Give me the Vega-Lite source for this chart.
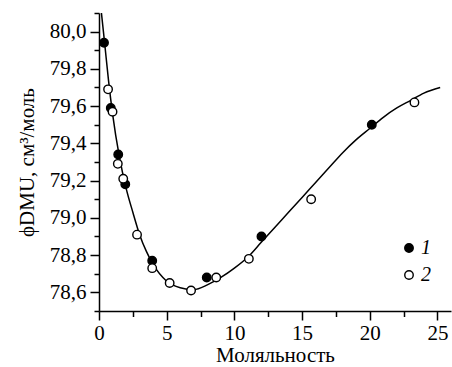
{
  "$schema": "https://vega.github.io/schema/vega-lite/v6.json",
  "width": 352,
  "height": 298,
  "autosize": {"type": "none"},
  "padding": {"left": 99, "top": 13, "right": 1, "bottom": 56},
  "background": "white",
  "config": {
    "view": {"stroke": null},
    "font": "Liberation Serif",
    "axis": {
      "domainColor": "black",
      "domainWidth": 1.5,
      "tickColor": "black",
      "tickWidth": 1.5,
      "labelColor": "black",
      "titleColor": "black",
      "labelFont": "Liberation Serif",
      "titleFont": "Liberation Serif",
      "labelFontSize": 21,
      "titleFontSize": 21,
      "titleFontWeight": "normal",
      "labelOverlap": false,
      "grid": false
    }
  },
  "datasets": {
    "curve": [
      {"m": 0.15, "phi": 80.12},
      {"m": 0.4, "phi": 79.95},
      {"m": 0.7, "phi": 79.74},
      {"m": 1.0, "phi": 79.56},
      {"m": 1.5, "phi": 79.33},
      {"m": 2.0, "phi": 79.16},
      {"m": 2.5, "phi": 79.03},
      {"m": 3.0, "phi": 78.91},
      {"m": 3.5, "phi": 78.82},
      {"m": 4.0, "phi": 78.75},
      {"m": 5.0, "phi": 78.66},
      {"m": 6.0, "phi": 78.625},
      {"m": 7.0, "phi": 78.615},
      {"m": 8.0, "phi": 78.64},
      {"m": 9.0, "phi": 78.68},
      {"m": 10.0, "phi": 78.73},
      {"m": 11.0, "phi": 78.79},
      {"m": 12.0, "phi": 78.87},
      {"m": 13.0, "phi": 78.95},
      {"m": 14.0, "phi": 79.03},
      {"m": 15.0, "phi": 79.11},
      {"m": 16.0, "phi": 79.19},
      {"m": 17.0, "phi": 79.27},
      {"m": 18.0, "phi": 79.35},
      {"m": 19.0, "phi": 79.42},
      {"m": 20.0, "phi": 79.48},
      {"m": 21.0, "phi": 79.54},
      {"m": 22.0, "phi": 79.59},
      {"m": 23.0, "phi": 79.63},
      {"m": 24.0, "phi": 79.67},
      {"m": 25.2, "phi": 79.70}
    ],
    "points": [
      {"m": 0.37, "phi": 79.94, "series": "1"},
      {"m": 0.87, "phi": 79.59, "series": "1"},
      {"m": 1.42, "phi": 79.34, "series": "1"},
      {"m": 1.94, "phi": 79.18, "series": "1"},
      {"m": 3.93, "phi": 78.77, "series": "1"},
      {"m": 7.96, "phi": 78.68, "series": "1"},
      {"m": 12.0, "phi": 78.90, "series": "1"},
      {"m": 20.15, "phi": 79.50, "series": "1"},
      {"m": 0.67, "phi": 79.69, "series": "2"},
      {"m": 1.0, "phi": 79.57, "series": "2"},
      {"m": 1.39, "phi": 79.29, "series": "2"},
      {"m": 1.79, "phi": 79.21, "series": "2"},
      {"m": 2.81, "phi": 78.91, "series": "2"},
      {"m": 3.93, "phi": 78.73, "series": "2"},
      {"m": 5.22, "phi": 78.65, "series": "2"},
      {"m": 6.8, "phi": 78.61, "series": "2"},
      {"m": 8.66, "phi": 78.68, "series": "2"},
      {"m": 11.07, "phi": 78.78, "series": "2"},
      {"m": 15.67, "phi": 79.10, "series": "2"},
      {"m": 23.3, "phi": 79.62, "series": "2"}
    ]
  },
  "encoding": {
    "x": {
      "field": "m",
      "type": "quantitative",
      "scale": {"domain": [0, 26], "nice": false, "zero": false},
      "axis": {
        "title": "Моляльность",
        "values": [0, 2.5, 5, 7.5, 10, 12.5, 15, 17.5, 20, 22.5, 25],
        "tickCount": 100,
        "labelExpr": "datum.value % 5 == 0 ? format(datum.value, 'd') : ''",
        "labelFont": "Liberation Serif",
        "titleFont": "Liberation Serif",
        "labelFontSize": 21,
        "labelOverlap": false,
        "tickSize": {"condition": {"test": "datum.value % 5 == 0", "value": 9}, "value": 5.5},
        "labelPadding": 2,
        "titlePadding": 1,
        "labelFlush": false
      }
    },
    "y": {
      "field": "phi",
      "type": "quantitative",
      "scale": {"domain": [78.5, 80.1], "nice": false, "zero": false},
      "axis": {
        "title": "ϕDMU, см³/моль",
        "values": [78.5, 78.6, 78.7, 78.8, 78.9, 79.0, 79.1, 79.2, 79.3, 79.4, 79.5, 79.6, 79.7, 79.8, 79.9, 80.0, 80.1],
        "tickCount": 100,
        "labelExpr": "round(datum.value * 10) % 2 == 0 ? replace(format(datum.value, '.1f'), '.', ',') : ''",
        "labelFont": "Liberation Serif",
        "titleFont": "Liberation Serif",
        "labelFontSize": 21,
        "labelOverlap": false,
        "tickSize": {"condition": {"test": "round(datum.value * 10) % 2 == 0", "value": 9}, "value": 5},
        "labelPadding": 4,
        "titlePadding": 12,
        "labelFlush": false
      }
    }
  },
  "layer": [
    {
      "data": {"name": "curve"},
      "mark": {"type": "line", "color": "black", "strokeWidth": 1.5, "interpolate": "monotone", "clip": true}
    },
    {
      "data": {"name": "points"},
      "mark": {"type": "point", "shape": "circle", "filled": false, "stroke": "black", "strokeWidth": 1.4, "size": 72, "opacity": 1},
      "encoding": {
        "fill": {
          "field": "series",
          "type": "nominal",
          "scale": {"domain": ["1", "2"], "range": ["black", "white"]},
          "legend": {
            "title": null,
            "orient": "none",
            "legendX": 300,
            "legendY": 225,
            "symbolType": "circle",
            "symbolSize": 72,
            "symbolStrokeColor": "black",
            "symbolStrokeWidth": 1.4,
            "labelFont": "Liberation Serif",
            "labelFontSize": 20,
            "labelFontStyle": "italic",
            "labelColor": "black",
            "rowPadding": 7,
            "labelOffset": 2
          }
        }
      }
    }
  ]
}
